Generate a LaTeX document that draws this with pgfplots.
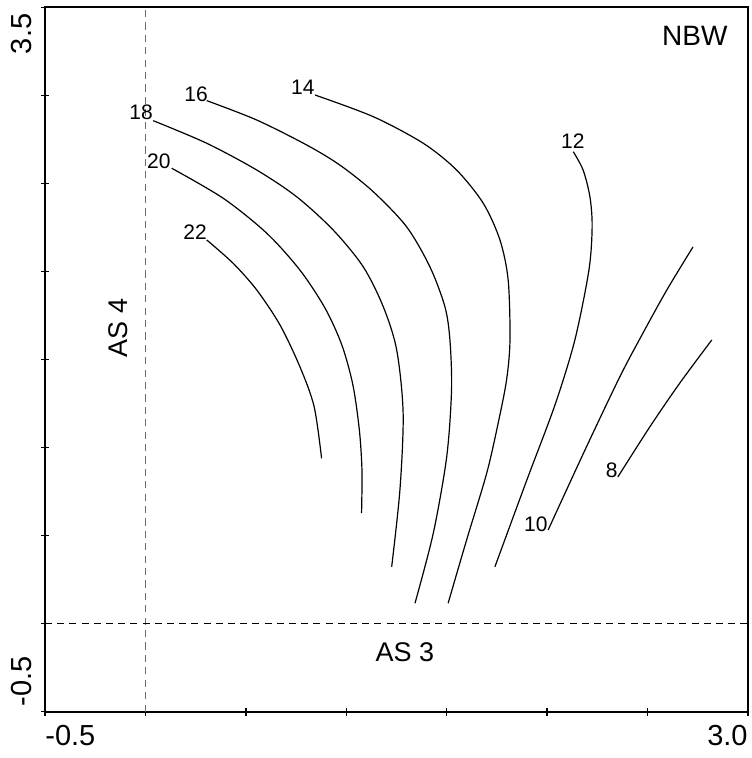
\documentclass[border=0pt]{standalone}
\usepackage{fontspec}
\setmainfont{Liberation Sans}
\usepackage{pgfplots}
\pgfplotsset{compat=1.18}
\usetikzlibrary{calc}
\begin{document}
\begin{tikzpicture}
\begin{axis}[
  scale only axis,
  width=351.5pt, height=352.2pt,
  xmin=-0.5, xmax=3.0, ymin=-0.5, ymax=3.5,
  xtick={-0.5,0,0.5,1,1.5,2,2.5,3},
  ytick={-0.5,0,0.5,1,1.5,2,2.5,3,3.5},
  xticklabels={}, yticklabels={},
  xtick pos=bottom, ytick pos=left,
  tick align=center,
  major tick length=4pt,
  every tick/.style={black, line width=0.7pt},
  axis line style={line width=0.8pt},
  clip=false,
]
% reference dashed lines
\addplot[gray!85!black, line width=0.75pt, dash pattern=on 3.6pt off 2.6pt] coordinates {(0,-0.5) (0,3.5)};
\addplot[black, line width=0.5pt, dash pattern=on 3.5pt off 2.6pt] coordinates {(-0.5,0) (3.0,0)};
% contours
% 22
\addplot[black, line width=0.6pt, smooth] coordinates {(0.305,2.179) (0.437,2.046) (0.554,1.895) (0.670,1.696) (0.769,1.459) (0.840,1.232) (0.877,0.939)};
% 20
\addplot[black, line width=0.6pt, smooth] coordinates {(0.131,2.586) (0.388,2.415) (0.604,2.217) (0.769,2.008) (0.894,1.792) (0.978,1.582) (1.033,1.355) (1.065,1.100) (1.078,0.873) (1.076,0.627)};
% 18
\addplot[black, line width=0.6pt, smooth] coordinates {(0.039,2.856) (0.305,2.728) (0.554,2.576) (0.753,2.424) (0.935,2.235) (1.084,2.027) (1.184,1.800) (1.251,1.554) (1.283,1.195) (1.267,0.759) (1.226,0.323)};
% 16
\addplot[black, line width=0.6pt, smooth] coordinates {(0.305,2.970) (0.554,2.860) (0.803,2.718) (0.968,2.604) (1.134,2.453) (1.300,2.254) (1.416,2.027) (1.491,1.800) (1.516,1.611) (1.524,1.327) (1.500,0.948) (1.433,0.513) (1.342,0.116)};
% 14
\addplot[black, line width=0.6pt, smooth] coordinates {(0.844,3.002) (1.134,2.879) (1.383,2.728) (1.549,2.576) (1.682,2.387) (1.765,2.179) (1.806,1.951) (1.815,1.611) (1.798,1.384) (1.756,1.138) (1.699,0.854) (1.599,0.475) (1.507,0.116)};
% 12
\addplot[black, line width=0.6pt, smooth] coordinates {(2.130,2.680) (2.179,2.576) (2.213,2.424) (2.224,2.254) (2.208,2.008) (2.138,1.611) (2.039,1.242) (1.899,0.816) (1.740,0.323)};
% 10
\addplot[black, line width=0.6pt, smooth] coordinates {(2.005,0.532) (2.190,0.990) (2.362,1.402) (2.477,1.650) (2.596,1.895) (2.726,2.139)};
% 8
\addplot[black, line width=0.6pt, smooth] coordinates {(2.352,0.833) (2.511,1.117) (2.661,1.367) (2.820,1.611)};
% contour labels
\begin{scope}[every node/.style={inner sep=0pt, font=\fontsize{10.5pt}{12pt}\selectfont}]
\node at (axis cs:0.252,3.008) {16};
\node at (axis cs:-0.022,2.905) {18};
\node at (axis cs:0.067,2.627) {20};
\node at (axis cs:0.247,2.224) {22};
\node at (axis cs:0.784,3.047) {14};
\node at (axis cs:2.128,2.741) {12};
\node at (axis cs:1.944,0.566) {10};
\node at (axis cs:2.322,0.873) {8};
\end{scope}
% titles
\node[inner sep=0pt, font=\fontsize{14pt}{16pt}\selectfont] at (axis cs:2.735,3.337) {NBW};
\node[inner sep=0pt, font=\fontsize{13.5pt}{16pt}\selectfont] at (axis cs:1.292,-0.161) {AS 3};
\node[inner sep=0pt, rotate=90, font=\fontsize{13.5pt}{16pt}\selectfont] at (axis cs:-0.137,1.679) {AS 4};
\end{axis}
% end tick labels
\node[inner sep=0pt, anchor=north west, font=\fontsize{14.5pt}{16pt}\selectfont] at ($(current axis.south west)+(0,-6.5pt)$) {-0.5};
\node[inner sep=0pt, anchor=north east, font=\fontsize{14.5pt}{16pt}\selectfont] at ($(current axis.south east)+(0,-6.5pt)$) {3.0};
\node[inner sep=0pt, anchor=south west, rotate=90, font=\fontsize{14.5pt}{16pt}\selectfont] at ($(current axis.south west)+(-6.5pt,2.5pt)$) {-0.5};
\node[inner sep=0pt, anchor=south east, rotate=90, font=\fontsize{14.5pt}{16pt}\selectfont] at ($(current axis.north west)+(-6.5pt,-3pt)$) {3.5};
\pgfresetboundingbox
\path ($(current axis.south west)+(-22.5pt,-23.15pt)$) rectangle ($(current axis.north east)+(2pt,3.65pt)$);
\end{tikzpicture}
\end{document}
